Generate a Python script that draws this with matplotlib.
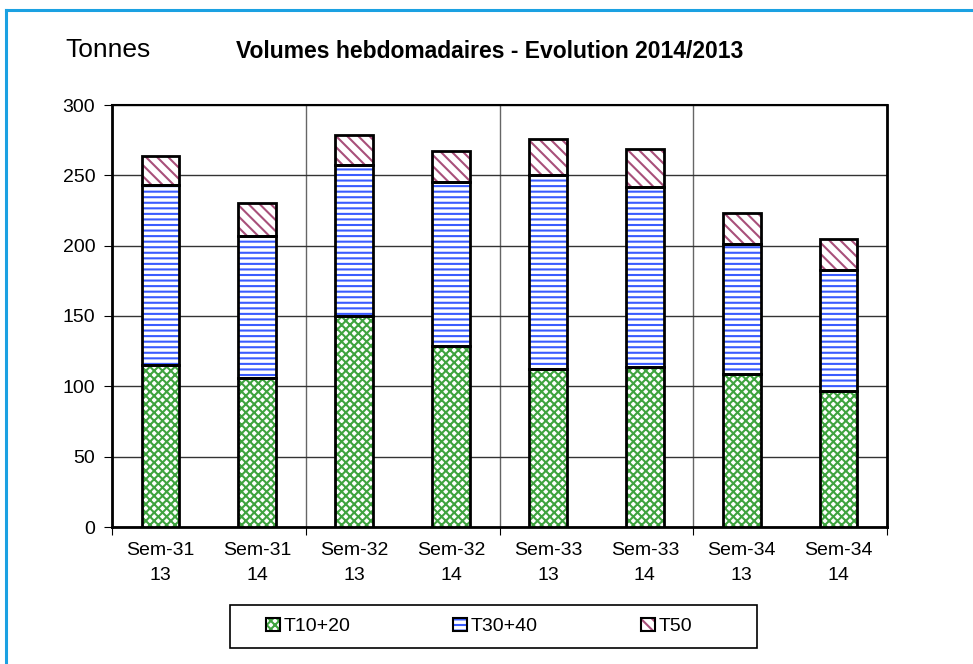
import matplotlib.pyplot as plt
from matplotlib.lines import Line2D
from matplotlib.patches import Patch, Rectangle

plt.rcParams["font.family"] = ["Liberation Sans", "DejaVu Sans"]
plt.rcParams["hatch.linewidth"] = 1.5

categories = ["Sem-31\n13", "Sem-31\n14", "Sem-32\n13", "Sem-32\n14",
              "Sem-33\n13", "Sem-33\n14", "Sem-34\n13", "Sem-34\n14"]
t10_20 = [115, 106, 150, 129, 112, 114, 109, 97]
t30_40 = [128, 101, 107, 116, 138, 128, 92, 86]
t50 = [21, 23, 22, 22, 26, 27, 22, 22]

series = [
    ("T10+20", t10_20, "#3fa33f", "xxxx"),
    ("T30+40", t30_40, "#3a5cff", "---"),
    ("T50", t50, "#a8507a", "\\\\\\"),
]

fig = plt.figure(figsize=(9.73, 6.64), dpi=100)
ax = fig.add_axes([112 / 973, 137 / 664, 775 / 973, 422 / 664])

# cadre bleu (haut et gauche visibles)
blue = "#1ba1e2"
fig.add_artist(Line2D([5.5 / 973, 5.5 / 973], [0, 1 - 10 / 664],
                      transform=fig.transFigure, color=blue, lw=2.2))
fig.add_artist(Line2D([5.5 / 973, 1], [1 - 10 / 664, 1 - 10 / 664],
                      transform=fig.transFigure, color=blue, lw=2.2))

x = list(range(len(categories)))
width = 0.39
bottom = [0] * len(categories)
handles = []
for label, vals, col, hatch in series:
    ax.bar(x, vals, width, bottom=bottom, color="white", edgecolor=col,
           hatch=hatch, lw=0, zorder=3)
    ax.bar(x, vals, width, bottom=bottom, fill=False, edgecolor="black",
           lw=2, zorder=4)
    handles.append((Patch(facecolor="white", edgecolor=col, hatch=hatch, lw=0),
                    Patch(fill=False, edgecolor="black", lw=1.5)))
    bottom = [b + v for b, v in zip(bottom, vals)]

ax.set_xlim(-0.5, len(categories) - 0.5)
ax.set_ylim(0, 300)
ax.set_yticks(range(0, 301, 50))
ax.yaxis.grid(True, color="#333333", lw=1)
ax.set_xticks([-0.5, 1.5, 3.5, 5.5, 7.5])
ax.set_xticklabels([])
ax.set_xticks(x, minor=True)
ax.set_xticklabels(categories, minor=True, fontsize=14, linespacing=1.6)
ax.tick_params(axis="x", which="minor", length=0, pad=11)
ax.tick_params(axis="x", which="major", length=6, direction="out")
ax.tick_params(axis="y", labelsize=14, length=6, pad=6)
ax.xaxis.grid(True, which="major", color="#666666", lw=1)
ax.set_axisbelow(True)
for side in ["left", "bottom", "right"]:
    ax.spines[side].set_linewidth(2)
ax.spines["top"].set_linewidth(1.5)

fig.text(65 / 973, 1 - 50 / 664, "Tonnes", fontsize=19, va="center")
fig.text(490 / 973, 1 - 52 / 664, "Volumes hebdomadaires - Evolution 2014/2013",
         fontsize=16.5, fontweight="bold", ha="center", va="center")

# cadre de la légende
fig.add_artist(Rectangle((230 / 973, 16 / 664), 527 / 973, 43 / 664,
                         transform=fig.transFigure, fill=False,
                         edgecolor="black", lw=1.2))
leg = fig.legend(handles, [s[0] for s in series], ncol=3,
                 bbox_to_anchor=(479 / 973, 37.5 / 664),
                 bbox_transform=fig.transFigure, loc="center",
                 fontsize=14, frameon=False, borderpad=0,
                 handlelength=0.7, handleheight=0.7, handletextpad=0.2,
                 columnspacing=5.3)

fig.savefig("out.png", dpi=100)
